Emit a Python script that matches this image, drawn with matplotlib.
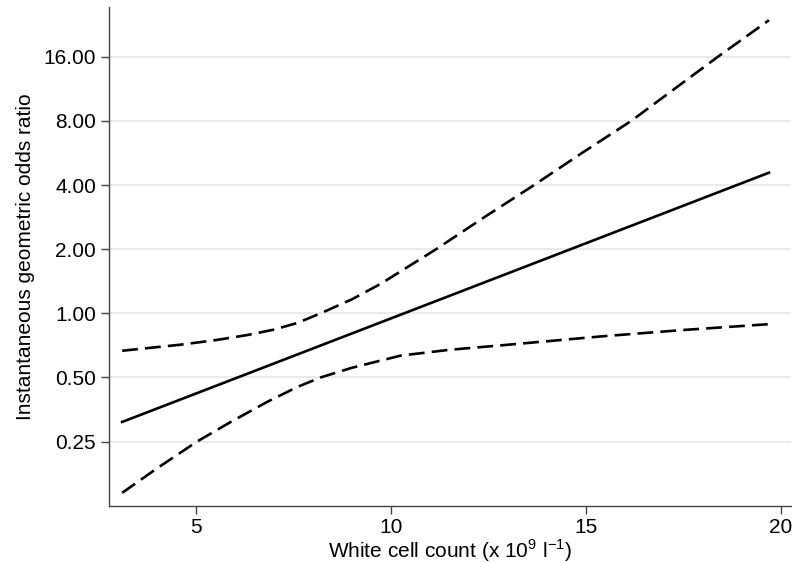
import numpy as np
import matplotlib
matplotlib.use("Agg")
import matplotlib.pyplot as plt

plt.rcParams['font.family'] = ['Liberation Sans', 'DejaVu Sans']
plt.rcParams['mathtext.fontset'] = 'custom'
plt.rcParams['mathtext.rm'] = 'Liberation Sans'

# fitted odds ratio (straight line on the log scale)
wcc_fit = [3.11, 6.0, 10.0, 15.0, 19.69]
or_fit = [0.309, 0.494, 0.946, 2.132, 4.57]

# upper 95% limit
wcc_upper = [3.11, 4.6, 5.5, 6.31, 7.0, 7.6, 8.2, 9.0, 9.74, 11.16, 12.4, 13.67, 14.9, 16.16, 18.38, 19.69]
or_upper = [0.667, 0.712, 0.748, 0.790, 0.838, 0.901, 1.0, 1.163, 1.376, 2.0, 2.83, 4.0, 5.66, 8.0, 16.0, 23.75]

# lower 95% limit
wcc_lower = [3.11, 4.0, 5.03, 5.88, 6.83, 7.6, 8.2, 9.0, 10.25, 11.5, 12.82, 15.39, 17.5, 19.69]
or_lower = [0.1436, 0.187, 0.25, 0.308, 0.384, 0.451, 0.5, 0.555, 0.633, 0.674, 0.707, 0.779, 0.835, 0.889]

yticks = [0.25, 0.5, 1, 2, 4, 8, 16]
xticks = [5, 10, 15, 20]

fig = plt.figure(figsize=(7.92, 5.63), dpi=100)
ax = fig.add_axes([0.137, 0.1018, 0.862, 0.8858])

ax.plot(wcc_fit, or_fit, color='black', lw=1.9, zorder=3)
ax.plot(wcc_upper, or_upper, color='black', lw=1.9, dashes=(6.0, 2.7), zorder=3)
ax.plot(wcc_lower, or_lower, color='black', lw=1.9, dashes=(6.0, 2.7), zorder=3)

ax.set_yscale('log', base=2)
ax.set_ylim(0.125, 27.4)
ax.set_xlim(2.76, 20.26)
ax.set_yticks(yticks)
ax.set_yticklabels([f"{v:.2f}" for v in yticks])
ax.yaxis.set_minor_locator(matplotlib.ticker.NullLocator())
ax.set_xticks(xticks)

ax.grid(axis='y', color='#e6e6e6', lw=1.2, zorder=0)
ax.set_axisbelow(True)

for side in ['top', 'right']:
    ax.spines[side].set_visible(False)
for side in ['left', 'bottom']:
    ax.spines[side].set_color('#444444')
    ax.spines[side].set_linewidth(1.0)

ax.tick_params(axis='both', labelsize=15, length=6, width=1.0, color='#444444', pad=3)

ax.set_xlabel(r'White cell count (x 10$^{9}$ l$^{-1}$)', fontsize=15, labelpad=0)
ax.set_ylabel('Instantaneous geometric odds ratio', fontsize=15, labelpad=6)

fig.savefig('out.png', dpi=100)
